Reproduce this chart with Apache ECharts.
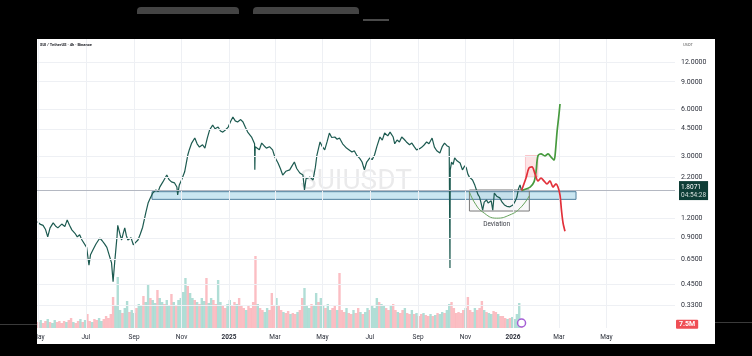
<!DOCTYPE html>
<html><head><meta charset="utf-8">
<script src="https://cdn.jsdelivr.net/npm/echarts@6/dist/echarts.min.js"></script>
<style>html,body{margin:0;padding:0;background:#000;}#c{width:752px;height:356px;background:#000;}</style>
</head><body><div id="c"></div>
<script>
// ---------- data ----------
const priceTicks = [12, 9, 6, 4.5, 3, 2.2, 1.2, 0.9, 0.65, 0.45, 0.33];
const timeTicks = ['2024-05-01','2024-07-01','2024-09-01','2024-11-01','2025-01-01','2025-03-01','2025-05-01','2025-07-01','2025-09-01','2025-11-01','2026-01-01','2026-03-01','2026-05-01'];
const timeTickLabels = ['May','Jul','Sep','Nov','2025','Mar','May','Jul','Sep','Nov','2026','Mar','May'];

const priceSeries = [
['2024-04-30',1.14],['2024-05-03',1.10],['2024-05-07',1.08],['2024-05-10',1.02],['2024-05-13',0.91],['2024-05-16',1.04],['2024-05-20',1.12],['2024-05-23',1.07],['2024-05-26',1.04],
['2024-05-31',1.10],['2024-06-04',1.06],['2024-06-07',1.17],['2024-06-10',1.08],['2024-06-13',1.01],['2024-06-17',0.96],['2024-06-20',0.91],['2024-06-23',0.94],['2024-06-26',0.87],['2024-07-02',0.78],
['2024-07-05',0.60],['2024-07-07',0.70],['2024-07-10',0.75],['2024-07-14',0.82],['2024-07-19',0.895],['2024-07-22',0.86],['2024-07-25',0.82],['2024-07-28',0.78],['2024-08-03',0.62],
['2024-08-05',0.47],['2024-08-07',0.62],['2024-08-10',0.91],['2024-08-11',1.08],['2024-08-14',0.94],['2024-08-16',0.87],['2024-08-18',0.96],['2024-08-20',1.04],
['2024-08-22',0.93],['2024-08-24',0.87],['2024-08-28',0.90],['2024-08-31',0.81],['2024-09-03',0.84],['2024-09-06',0.87],['2024-09-09',0.95],['2024-09-12',1.05],['2024-09-16',1.30],['2024-09-19',1.50],
['2024-09-22',1.62],['2024-09-25',1.74],['2024-09-29',1.82],['2024-10-02',1.78],['2024-10-04',1.90],['2024-10-08',2.05],['2024-10-13',2.27],['2024-10-16',2.12],['2024-10-19',2.05],['2024-10-23',2.02],['2024-10-26',1.90],
['2024-10-27',1.69],['2024-10-29',1.95],['2024-11-01',2.11],['2024-11-05',2.38],['2024-11-09',3.05],['2024-11-11',3.30],['2024-11-14',3.64],
['2024-11-18',3.92],['2024-11-21',3.60],['2024-11-24',3.43],['2024-11-28',3.55],['2024-12-01',3.38],['2024-12-04',3.90],['2024-12-07',4.41],['2024-12-11',4.75],['2024-12-14',4.50],
['2024-12-18',4.61],['2024-12-21',4.35],['2024-12-24',4.28],['2024-12-28',4.45],['2024-12-31',4.61],['2025-01-03',5.00],['2025-01-06',5.35],['2025-01-09',5.05],['2025-01-12',4.97],
['2025-01-16',5.15],['2025-01-19',4.97],['2025-01-22',4.60],['2025-01-25',4.28],['2025-01-30',3.98],['2025-02-02 20:00',3.60],['2025-02-03 04:00',2.45],
['2025-02-03 16:00',3.45],['2025-02-06',3.43],['2025-02-09',3.30],['2025-02-12',3.64],['2025-02-15',3.50],['2025-02-18',3.38],['2025-02-22',3.45],['2025-02-26',3.29],
['2025-03-01',2.95],['2025-03-05',2.71],['2025-03-08',2.50],['2025-03-11',2.27],['2025-03-15',2.40],['2025-03-20',2.45],['2025-03-23',2.60],['2025-03-26',2.75],['2025-03-29',2.50],['2025-04-02',2.34],
['2025-04-06',2.27],['2025-04-08',1.82],['2025-04-10',2.15],['2025-04-15',2.20],['2025-04-19',2.11],
['2025-04-22',2.55],['2025-04-24',3.05],['2025-04-28',3.70],['2025-05-01',3.45],['2025-05-04',3.29],['2025-05-07',3.70],['2025-05-10',4.22],['2025-05-13',3.95],['2025-05-17',3.98],
['2025-05-20',3.85],['2025-05-23',3.92],['2025-05-27',3.60],['2025-06-01',3.38],['2025-06-04',3.30],['2025-06-08',3.19],['2025-06-11',3.25],['2025-06-14',3.05],['2025-06-18',2.90],['2025-06-21',2.75],
['2025-06-24',2.45],['2025-06-27',2.75],['2025-07-01',2.92],['2025-07-04',2.85],['2025-07-07',3.05],['2025-07-10',3.45],['2025-07-14',3.98],['2025-07-17',3.80],['2025-07-20',4.22],
['2025-07-24',4.05],['2025-07-27',4.28],['2025-07-31',3.98],['2025-08-02',3.60],['2025-08-05',3.81],['2025-08-08',3.70],['2025-08-11',3.98],['2025-08-14',3.85],['2025-08-17',3.70],
['2025-08-21',3.55],['2025-08-24',3.64],['2025-08-27',3.45],['2025-08-30',3.29],['2025-09-03',3.35],['2025-09-06',3.43],['2025-09-09',3.55],['2025-09-12',3.70],['2025-09-15',3.60],['2025-09-19',3.92],
['2025-09-22',3.43],['2025-09-25',3.25],['2025-09-29',3.14],['2025-10-02',3.45],['2025-10-05',3.64],['2025-10-08',3.50],['2025-10-11',3.43],['2025-10-12 00:00',0.575],
['2025-10-12 08:00',2.45],['2025-10-14',2.75],['2025-10-16',2.65],['2025-10-18',2.92],['2025-10-21',2.80],['2025-10-25',2.71],['2025-10-28',2.45],
['2025-10-31',2.60],['2025-11-02',2.52],['2025-11-04',2.30],['2025-11-06',2.20],['2025-11-08',2.25],['2025-11-10',2.11],['2025-11-13',1.95],['2025-11-15',1.82],['2025-11-17',1.70],['2025-11-19',1.64],
['2025-11-21',1.50],['2025-11-23',1.35],['2025-11-25',1.52],['2025-11-28',1.57],['2025-11-30',1.50],['2025-12-02',1.46],['2025-12-04',1.55],['2025-12-06',1.35],['2025-12-08',1.74],['2025-12-11',1.66],
['2025-12-15',1.62],['2025-12-18',1.52],['2025-12-21',1.46],['2025-12-24',1.43],['2025-12-28',1.42],['2026-01-01',1.46],['2026-01-04',1.55],['2026-01-06',1.64],
['2026-01-08',1.85],['2026-01-10',1.96],['2026-01-12',1.8071]
];

const lastPrice = 1.8071;
const lastVolume = 7.5;

const greenPath = [
['2026-01-12',1.8071],['2026-01-14',1.82],['2026-01-23',1.90],['2026-01-28',2.05],['2026-01-30 14:00',2.38],
['2026-02-02',3.01],['2026-02-06',3.10],['2026-02-11',3.01],['2026-02-15',3.10],['2026-02-19',2.96],
['2026-02-22 16:00',2.83],['2026-02-24',3.01],['2026-02-26 14:00',4.28],['2026-03-01',5.51],['2026-03-02 10:00',6.48]
];
const redPath = [
['2026-01-12',1.8071],['2026-01-17 17:00',2.17],['2026-01-21 14:00',2.52],['2026-01-25 10:00',2.56],['2026-01-29 07:00',2.31],
['2026-02-02 02:00',2.08],['2026-02-06',2.17],['2026-02-09 19:00',2.08],['2026-02-13 17:00',1.99],['2026-02-17 12:00',2.08],
['2026-02-21 10:00',1.90],['2026-02-25 07:00',1.99],['2026-02-27 19:00',1.90],['2026-03-02 10:00',1.69],['2026-03-04 07:00',1.35],
['2026-03-06 07:00',1.12],['2026-03-08 19:00',0.99]
];
const arcPath = [['2025-11-06',1.766],['2025-11-13',1.50],['2025-11-23',1.315],['2025-12-11',1.20],['2025-12-28',1.26],['2026-01-10',1.39],['2026-01-22',1.67]];
const deviationLabelAt = ['2025-12-11', 1.10];

const zoneDates = ['2024-09-24','2026-03-23'];
const zonePrices = [1.585, 1.775];
const boxDates = ['2025-11-06','2026-01-22'];
const boxPrices = [1.334, 1.82];
const pinkDates = ['2026-01-17','2026-02-02'];
const pinkPrices = [2.20, 3.03];
const eventAt = ['2026-01-12', 10];

const volStart = '2024-05-01';
const volStepDays = 3;
const volValues = [12,16,10,14,18,12,10,16,12,14,
10,14,12,16,20,12,10,14,18,12,
16,28,14,12,18,16,20,14,18,24,
20,28,62,44,102,36,30,40,54,32,
36,30,40,48,44,64,52,86,60,56,
50,76,60,52,48,56,44,68,52,44,
56,60,72,100,84,70,60,56,52,48,
60,54,100,50,60,56,48,96,52,44,
40,48,56,44,52,48,60,44,40,36,
44,40,52,144,48,40,36,32,40,36,
70,44,60,44,36,32,30,34,28,30,
28,32,36,60,80,44,40,48,44,70,
52,60,44,40,48,36,40,44,36,110,
36,32,40,30,28,36,30,40,32,28,
32,40,36,44,40,60,52,48,44,40,
36,44,48,36,32,30,36,40,30,28,
36,28,30,24,28,30,26,24,28,24,
26,30,28,32,30,36,48,52,40,30,
32,30,36,40,62,36,32,40,36,40,
54,36,32,30,28,34,32,28,24,24,
20,18,20,22,18,28,50,7.5];
const volDir = 'dudduduudd'+'ddudduddud'+'uddudduudd'+'ddduuuduud'+'uuduuduudu'+'uduuduudud'+'uuuuduudud'+'uuduudduud'+'duuddudddu'+'ddddudduud'+
'ddudduddud'+'dudduuuduu'+'duuduuddud'+'ddudduddud'+'uuduuuduud'+'dudduddudd'+'ududduddud'+'uduuduuddd'+'dddudddudd'+'duduuddudd'+'duduuuud';

// ---------- helpers ----------
const L = Math.log;
function ts(s){
  const [d,t] = s.split(' ');
  const [Y,M,D] = d.split('-').map(Number);
  const [h,m] = t ? t.split(':').map(Number) : [0,0];
  return new Date(Y, M-1, D, h, m).getTime();
}
const DAY = 86400000;
const xMin = ts('2024-04-29 05:00');
const xMax = ts('2026-07-28 05:00');
const yMaxLn = 2.82908, yMinLn = -1.43976;
const tickTs = timeTicks.map(ts);
const toXY = arr => arr.map(([d,p]) => [ts(d), L(p)]);

const volData = volValues.map((v,i) => ({
  value: [ts(volStart) + i*volStepDays*DAY, v],
  itemStyle: {color: volDir[i]==='u' ? 'rgba(8,153,129,0.32)' : 'rgba(242,54,69,0.32)'}
}));

const chart = echarts.init(document.getElementById('c'), null, {renderer:'canvas'});
chart.setOption({
  animation: false,
  backgroundColor: 'transparent',
  textStyle: {fontFamily: 'Roboto, "Noto Sans", sans-serif'},
  grid: [
    {left:37, right:77, top:39, bottom:28},
    {left:37, right:77, top:228, bottom:28}
  ],
  xAxis: [
    {type:'value', gridIndex:0, min:xMin, max:xMax, scale:true,
     axisLine:{show:false}, axisTick:{show:false}, splitLine:{show:false},
     axisLabel:{customValues: tickTs, margin:6, fontSize:6.5, color:'#2a2e39', hideOverlap:false, showMinLabel:true, showMaxLabel:true,
       formatter: v => { const i = tickTs.indexOf(v); const s = i>=0 ? timeTickLabels[i] : ''; return /^\d{4}$/.test(s) ? '{y|'+s+'}' : s; },
       rich:{y:{fontWeight:'bold', fontSize:6.5, color:'#2a2e39'}}}},
    {type:'value', gridIndex:1, min:xMin, max:xMax, scale:true, show:false}
  ],
  yAxis: [
    {type:'value', gridIndex:0, min:yMinLn, max:yMaxLn, position:'right', scale:true,
     axisLine:{show:false}, axisTick:{show:false}, splitLine:{show:false},
     axisLabel:{customValues: priceTicks.map(L), formatter: v => Math.exp(v).toFixed(4), fontSize:7, color:'#2a2e39', margin:6, showMinLabel:true, showMaxLabel:true}},
    {type:'value', gridIndex:1, min:0, max:200, show:false}
  ],
  graphic: [
    {type:'rect', z:-10, shape:{x:37, y:39, width:678, height:305}, style:{fill:'#fff'}},
    {type:'text', z:-5, x:356, y:182, style:{text:'SUIUSDT', fontSize:28, fontFamily:'Roboto, sans-serif', fill:'rgba(19,23,34,0.09)', align:'center', verticalAlign:'middle'}},
    {type:'text', z:10, x:40, y:45, style:{text:'SUI / TetherUS · 4h · Binance', fontSize:4, fontWeight:'bold', fontFamily:'Roboto, sans-serif', fill:'#1d1f26', verticalAlign:'middle'}},
    {type:'text', z:10, x:683, y:45, style:{text:'USDT', fontSize:4, fontFamily:'Roboto, sans-serif', fill:'#555', verticalAlign:'middle'}},
    {type:'rect', z:100, shape:{x:0, y:0, width:37, height:356}, style:{fill:'#000'}},
    {type:'rect', z:100, shape:{x:715, y:0, width:37, height:356}, style:{fill:'#000'}},
    {type:'rect', z:100, shape:{x:0, y:344, width:752, height:12}, style:{fill:'#000'}},
    {type:'rect', z:101, shape:{x:0, y:324, width:37, height:1}, style:{fill:'#3a3a3a'}},
    {type:'rect', z:101, shape:{x:715, y:322, width:37, height:1}, style:{fill:'#3a3a3a'}},
    {type:'rect', z:101, shape:{x:137, y:7, width:102, height:7, r:[4,4,0,0]}, style:{fill:'#444'}},
    {type:'rect', z:101, shape:{x:253, y:7, width:106, height:7, r:[4,4,0,0]}, style:{fill:'#444'}},
    {type:'rect', z:101, shape:{x:363, y:19, width:26, height:2}, style:{fill:'#4a4a4a'}}
  ],
  series: [
    {name:'gridlines', type:'line', xAxisIndex:0, yAxisIndex:0, data:[], z:1, silent:true,
     markLine:{silent:true, symbol:['none','none'], label:{show:false},
       lineStyle:{color:'#eef0f4', width:1, type:'solid'},
       data:[...priceTicks.map(p => ({yAxis:L(p)})), ...tickTs.map(t => ({xAxis:t}))]}},
    {name:'volume', type:'bar', xAxisIndex:1, yAxisIndex:1, data:volData, barWidth:2.4, z:2, silent:true,
     markPoint:{symbol:'circle', symbolSize:8, label:{show:false},
       itemStyle:{color:'#fff', borderColor:'#a55fd6', borderWidth:1.5},
       data:[{coord:[ts(eventAt[0]), eventAt[1]]}]},
     markLine:{silent:true, symbol:['none','none'], lineStyle:{color:'rgba(0,0,0,0)', width:0},
       label:{show:true, position:'end', distance:1, formatter: lastVolume+'M', backgroundColor:'#ef4e55', color:'#fff', fontSize:7, fontWeight:'bold', padding:[1,3], borderRadius:1},
       data:[{yAxis:lastVolume}]}},
    {name:'zone', type:'line', xAxisIndex:0, yAxisIndex:0, data:[], z:3, silent:true,
     markArea:{silent:true, itemStyle:{color:'rgba(150,205,228,0.5)', borderColor:'#4f7f9c', borderWidth:1},
       data:[[{coord:[ts(zoneDates[0]), L(zonePrices[1])]}, {coord:[ts(zoneDates[1]), L(zonePrices[0])]}]]}},
    {name:'price', type:'line', xAxisIndex:0, yAxisIndex:0, data:toXY(priceSeries), showSymbol:false, z:4,
     lineStyle:{color:'#1c5a50', width:1.2},
     markLine:{silent:true, symbol:['none','none'], lineStyle:{color:'#b4b8c2', width:1, type:'solid'},
       label:{show:true, position:'end', distance:4, formatter:'{a|'+lastPrice.toFixed(4)+'}\n{b|04:54:28}', backgroundColor:'#0e3d36', padding:[2,2,1,2],
         rich:{a:{color:'#fff', fontSize:6.5, lineHeight:8}, b:{color:'#d5dfdc', fontSize:6.5, lineHeight:8}}},
       data:[{yAxis:L(lastPrice)}]}},
    {name:'arc', type:'line', xAxisIndex:0, yAxisIndex:0, data:toXY(arcPath), smooth:0.5, showSymbol:false, z:5,
     lineStyle:{color:'#66a35c', width:1},
     markArea:{silent:true, itemStyle:{color:'rgba(120,123,134,0.05)', borderColor:'#7a7a7a', borderWidth:1},
       data:[[{coord:[ts(boxDates[0]), L(boxPrices[1])]}, {coord:[ts(boxDates[1]), L(boxPrices[0])]}]]},
     markPoint:{symbol:'circle', symbolSize:0, label:{show:true, position:'inside', formatter:'Deviation', fontSize:6.5, color:'#3a3d45'},
       data:[{coord:[ts(deviationLabelAt[0]), L(deviationLabelAt[1])]}]}},
    {name:'bull', type:'line', xAxisIndex:0, yAxisIndex:0, data:toXY(greenPath), smooth:0.3, showSymbol:false, z:6,
     lineStyle:{color:'#469a3e', width:1.7}},
    {name:'bear', type:'line', xAxisIndex:0, yAxisIndex:0, data:toXY(redPath), smooth:0.3, showSymbol:false, z:6,
     lineStyle:{color:'#e2303a', width:1.7},
     markArea:{silent:true, itemStyle:{color:'rgba(242,54,69,0.14)', borderColor:'rgba(242,54,69,0.3)', borderWidth:0.8},
       data:[[{coord:[ts(pinkDates[0]), L(pinkPrices[1])]}, {coord:[ts(pinkDates[1]), L(pinkPrices[0])]}]]}}
  ]
});
</script>
</body></html>
